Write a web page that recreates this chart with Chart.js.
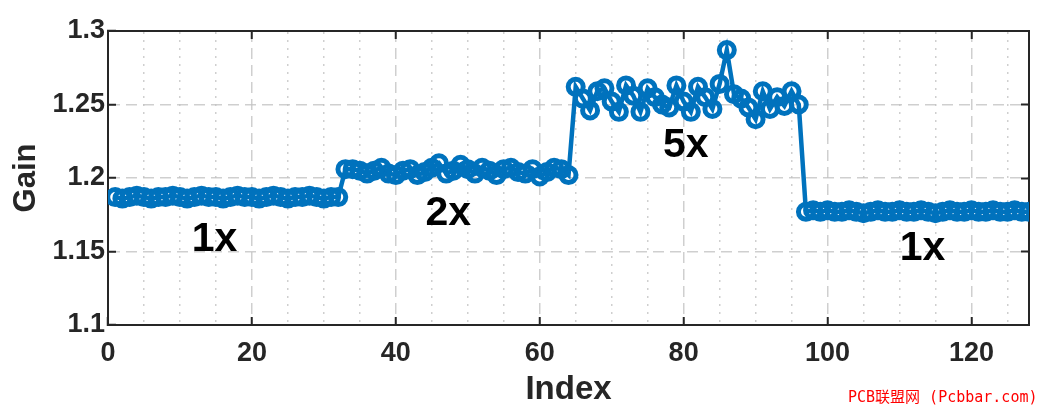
<!DOCTYPE html>
<html>
<head>
<meta charset="utf-8">
<script src="https://cdn.jsdelivr.net/npm/chart.js@4.4.1/dist/chart.umd.min.js"></script>
<style>
  html, body { margin: 0; padding: 0; background: #fff; }
  #wrap { position: relative; width: 1047px; height: 410px; }
  #mark {
    position: absolute; left: 848px; top: 385px;
    font: 15px 'DejaVu Sans Mono', 'Noto Sans CJK SC', monospace;
    color: #ff0000; white-space: pre;
  }
</style>
</head>
<body>
<div id="wrap">
  <canvas id="chart" width="1047" height="410"></canvas>
  <div id="mark">PCB联盟网 (Pcbbar.com)</div>
</div>
<script>
// --- Datos (Gain por Index) ---
const gain1x = [1.187, 1.186, 1.187, 1.188, 1.187, 1.186, 1.187, 1.187, 1.188, 1.187, 1.186, 1.187, 1.188, 1.187, 1.187, 1.186,
                1.187, 1.188, 1.187, 1.187, 1.186, 1.187, 1.188, 1.187, 1.186, 1.187, 1.187, 1.188, 1.187, 1.186, 1.187, 1.187];
const gain2x = [1.206, 1.206, 1.205, 1.203, 1.205, 1.207, 1.203, 1.202, 1.205, 1.206, 1.202, 1.204, 1.207, 1.210, 1.203, 1.205,
                1.209, 1.206, 1.203, 1.207, 1.205, 1.202, 1.206, 1.207, 1.204, 1.203, 1.206, 1.201, 1.204, 1.207, 1.206, 1.202];
const gain5x = [1.262, 1.254, 1.246, 1.259, 1.261, 1.252, 1.245, 1.263, 1.256, 1.245, 1.261, 1.255, 1.250, 1.248, 1.263, 1.252,
                1.245, 1.262, 1.255, 1.247, 1.264, 1.287, 1.257, 1.254, 1.248, 1.240, 1.259, 1.247, 1.255, 1.249, 1.259, 1.250];
const gain1xEnd = [1.177, 1.178, 1.177, 1.178, 1.177, 1.177, 1.178, 1.177, 1.176, 1.177, 1.178, 1.177, 1.177, 1.178, 1.177, 1.177,
                   1.178, 1.177, 1.176, 1.177, 1.178, 1.177, 1.177, 1.178, 1.177, 1.177, 1.178, 1.177, 1.177, 1.178, 1.177, 1.177];

const xTicks = [0, 20, 40, 60, 80, 100, 120];
const xMinorTicks = [0, 5, 10, 15, 20, 25, 30, 35, 40, 45, 50, 55, 60, 65, 70, 75, 80, 85, 90, 95, 100, 105, 110, 115, 120, 125];
const yTicks = [1.1, 1.15, 1.2, 1.25, 1.3];
const yTickLabels = ['1.1', '1.15', '1.2', '1.25', '1.3'];

// Etiquetas de zoom dentro del área (coordenadas de datos)
const annoText = ['1x', '2x', '5x', '1x'];
const annoX = [14.8, 47.3, 80.3, 113.2];
const annoY = [1.158, 1.176, 1.222, 1.152];

const gain = [...gain1x, ...gain2x, ...gain5x, ...gain1xEnd];
const points = gain.map((g, i) => ({ x: i + 1, y: g }));

const FONT = "'Liberation Sans', Arial, sans-serif";
const TICK_COLOR = '#262626';
const GRID_COLOR = 'rgba(195, 195, 195, 0.8)';
const BLUE = '#0072BD';

const setTicks = (vals) => (scale) => { scale.ticks = vals.map(v => ({ value: v })); };

const annoPlugin = {
  id: 'annoText',
  afterDatasetsDraw(chart) {
    const { ctx, scales: { x, y } } = chart;
    ctx.save();
    ctx.font = `bold 41px ${FONT}`;
    ctx.fillStyle = '#000';
    ctx.textAlign = 'center';
    ctx.textBaseline = 'middle';
    annoText.forEach((t, i) => ctx.fillText(t, x.getPixelForValue(annoX[i]), y.getPixelForValue(annoY[i])));
    ctx.restore();
  },
};

new Chart(document.getElementById('chart'), {
  type: 'line',
  data: {
    datasets: [{
      data: points,
      borderColor: BLUE,
      borderWidth: 4.5,
      pointRadius: 7.5,
      pointBorderWidth: 5,
      pointBackgroundColor: 'rgba(0,0,0,0)',
      pointBorderColor: BLUE,
      tension: 0,
    }],
  },
  options: {
    responsive: false,
    animation: false,
    layout: { padding: 0 },
    plugins: { legend: { display: false }, tooltip: { enabled: false } },
    scales: {
      x: {
        type: 'linear', position: 'bottom', min: 0, max: 128,
        afterBuildTicks: setTicks(xTicks),
        afterFit: (s) => { s.height = 85; },
        grid: { color: (c) => (c.tick && c.tick.value === 0 ? 'rgba(0,0,0,0)' : GRID_COLOR), lineWidth: 1.5, tickLength: -8, tickColor: '#262626', tickWidth: 2 },
        border: { display: true, color: '#262626', width: 2, dash: [11, 6] },
        ticks: { color: TICK_COLOR, font: { family: FONT, size: 27, weight: 'bold' }, padding: 20, maxRotation: 0 },
        title: { display: true, text: 'Index', color: TICK_COLOR, font: { family: FONT, size: 33, weight: 'bold' }, padding: { top: 0, bottom: 0 } },
      },
      xTop: {
        type: 'linear', position: 'top', min: 0, max: 128,
        afterBuildTicks: setTicks(xMinorTicks),
        afterFit: (s) => { s.height = 31; },
        grid: {
          color: (c) => (c.tick && c.tick.value % 20 !== 0 ? GRID_COLOR : 'rgba(0,0,0,0)'),
          lineWidth: 1.5, tickLength: -8, tickWidth: 2,
          tickColor: (c) => (c.tick && c.tick.value % 20 === 0 && c.tick.value > 0 ? '#262626' : 'rgba(0,0,0,0)'),
        },
        border: { display: true, color: '#262626', width: 2, dash: [2, 6] },
        ticks: { display: false },
      },
      y: {
        type: 'linear', position: 'left', min: 1.1, max: 1.3,
        afterBuildTicks: setTicks(yTicks),
        afterFit: (s) => { s.width = 108; },
        grid: { color: (c) => (c.tick && (c.tick.value <= 1.1 || c.tick.value >= 1.3) ? 'rgba(0,0,0,0)' : GRID_COLOR), lineWidth: 1.5, tickLength: -8, tickColor: '#262626', tickWidth: 2 },
        border: { display: true, color: '#262626', width: 2, dash: [11, 6] },
        ticks: {
          color: TICK_COLOR, font: { family: FONT, size: 27, weight: 'bold' }, padding: 11,
          callback: (v) => yTickLabels[yTicks.indexOf(v)] ?? '',
        },
        title: { display: true, text: 'Gain', color: TICK_COLOR, font: { family: FONT, size: 31, weight: 'bold' }, padding: { top: 8, bottom: 0 } },
      },
      yRight: {
        type: 'linear', position: 'right', min: 1.1, max: 1.3,
        afterBuildTicks: setTicks(yTicks),
        afterFit: (s) => { s.width = 18; },
        grid: { color: 'rgba(0,0,0,0)', tickLength: -8, tickWidth: 2, tickColor: (c) => (c.tick && c.tick.value > 1.1 && c.tick.value < 1.3 ? '#262626' : 'rgba(0,0,0,0)') },
        border: { display: true, color: '#262626', width: 2 },
        ticks: { display: false },
      },
    },
  },
  plugins: [annoPlugin],
});
</script>
</body>
</html>
